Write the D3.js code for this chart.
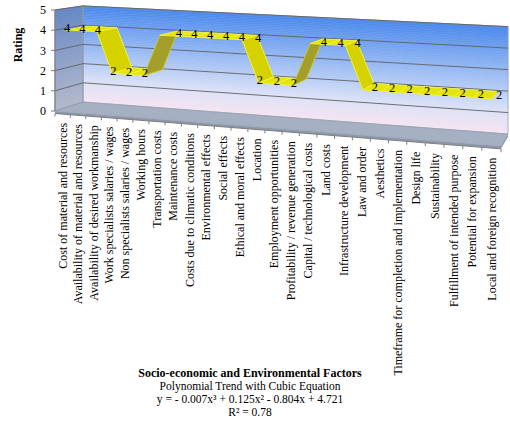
<!DOCTYPE html>
<html>
<head>
<meta charset="utf-8">
<script src="https://cdn.jsdelivr.net/npm/d3@7"></script>
<style>
  body { margin: 0; background: #ffffff; }
  svg { display: block; }
</style>
</head>
<body>
<svg id="chart" width="510" height="421" font-family="'Liberation Serif', 'Times New Roman', Tinos, 'DejaVu Serif', serif"></svg>
<script>
// ---- data ----
const factors = [
  "Cost of material and resources",
  "Availability of material and resources",
  "Availability of desired workmanship",
  "Work specialists salaries / wages",
  "Non specialists salaries / wages",
  "Working hours",
  "Transportation costs",
  "Maintenance costs",
  "Costs due to climatic conditions",
  "Environmental effects",
  "Social effects",
  "Ethical and moral effects",
  "Location",
  "Employment opportunities",
  "Profitability / revenue generation",
  "Capital / technological costs",
  "Land costs",
  "Infrastructure development",
  "Law and order",
  "Aesthetics",
  "Timeframe for completion and implementation",
  "Design life",
  "Sustainability",
  "Fulfillment of intended purpose",
  "Potential for expansion",
  "Local and foreign recognition"
];
const ratings = [4,4,4,2,2,2,4,4,4,4,4,4,2,2,2,4,4,4,2,2,2,2,2,2,2,2];
const ratingTicks = [0,1,2,3,4,5];
const yTitle = "Rating";
const xTitle = "Socio-economic and Environmental Factors";
const trendTitle = "Polynomial Trend with Cubic Equation";
const trendEquation = "y = - 0.007x³ + 0.125x² - 0.804x + 4.721";
const trendFit = "R² = 0.78";

// ---- scales (unit box coordinates) ----
const xBand = d3.scaleBand().domain(factors).range([0, 1]).padding(0);
const xCenter = f => xBand(f) + xBand.bandwidth() / 2;
const yScale = d3.scaleLinear().domain([0, 5]).range([0, 1]);

// ---- perspective camera: box X (categories), Y (rating), Z (depth, 0 = front) ----
const cam = {
  ax: 390.4, az: 32.27, ox: 55,
  bx: 18.8, by: -101, bz: -3.74, oy: 111,
  wx: -0.111, wz: 0.0513
};
function project(X, Y, Z) {
  const w = 1 + cam.wx * X + cam.wz * Z;
  return [
    (cam.ax * X + cam.az * Z + cam.ox) / w,
    (cam.bx * X + cam.by * Y + cam.bz * Z + cam.oy) / w
  ];
}
const poly = pts => "M" + pts.map(p => p[0].toFixed(2) + "," + p[1].toFixed(2)).join("L") + "Z";

const svg = d3.select("#chart");

// ---- back wall and side wall, shaded in horizontal bands ----
const backColor = d3.scaleLinear()
  .domain([0, 0.22, 0.5, 1])
  .range(["#f6e4f1", "#dbe1f7", "#a4c2f4", "#4b88ec"])
  .interpolate(d3.interpolateRgb);
const sideColor = d3.scaleLinear()
  .domain([0, 1])
  .range(["#b2b8cb", "#6385c4"]);
const bands = d3.range(60);
const gWalls = svg.append("g");
gWalls.selectAll("path.back").data(bands).join("path")
  .attr("class", "back")
  .attr("d", k => {
    const v0 = k / bands.length, v1 = (k + 1) / bands.length;
    return poly([project(0, v0, 1), project(1, v0, 1), project(1, v1, 1), project(0, v1, 1)]);
  })
  .attr("fill", k => backColor((k + 0.5) / bands.length))
  .attr("stroke", k => backColor((k + 0.5) / bands.length))
  .attr("stroke-width", 0.6);

gWalls.selectAll("path.side").data(bands).join("path")
  .attr("class", "side")
  .attr("d", k => {
    const v0 = k / bands.length, v1 = (k + 1) / bands.length;
    return poly([project(0, v0, 0), project(0, v0, 1), project(0, v1, 1), project(0, v1, 0)]);
  })
  .attr("fill", k => sideColor((k + 0.5) / bands.length))
  .attr("stroke", k => sideColor((k + 0.5) / bands.length))
  .attr("stroke-width", 0.6);

// ---- floor with a thin slab edge ----
const slab = -0.025;
gWalls.append("path")
  .attr("d", poly([project(0, slab, 0), project(1, slab, 0), project(1, 0, 0), project(0, 0, 0)]))
  .attr("fill", "#8d98ad");
gWalls.append("path")
  .attr("d", poly([project(1, slab, 0), project(1, slab, 1), project(1, 0, 1), project(1, 0, 0)]))
  .attr("fill", "#8d98ad");
gWalls.append("path")
  .attr("d", poly([project(0, 0, 0), project(1, 0, 0), project(1, 0, 1), project(0, 0, 1)]))
  .attr("fill", "#a6b0c3")
  .attr("stroke", "#98a3b7")
  .attr("stroke-width", 0.8);

// wall outlines
gWalls.append("path")
  .attr("d", poly([project(0, 0, 1), project(1, 0, 1), project(1, 1, 1), project(0, 1, 1)]))
  .attr("fill", "none").attr("stroke", "#9aa3b4").attr("stroke-width", 0.8);
gWalls.append("path")
  .attr("d", poly([project(0, 0, 0), project(0, 0, 1), project(0, 1, 1), project(0, 1, 0)]))
  .attr("fill", "none").attr("stroke", "#8f98aa").attr("stroke-width", 0.8);

// ---- gridlines ----
const gGrid = svg.append("g").attr("fill", "none").attr("stroke", "#626262").attr("stroke-width", 0.9);
ratingTicks.filter(t => t > 0).forEach(t => {
  const v = yScale(t);
  gGrid.append("path").attr("d", "M" + project(0, v, 0) + "L" + project(0, v, 1) + "L" + project(1, v, 1));
});

// ---- axes ----
const gAxis = svg.append("g");
gAxis.append("path")
  .attr("d", "M" + project(0, 0, 0) + "L" + project(0, 1, 0))
  .attr("stroke", "#7d7d7d").attr("stroke-width", 1);
gAxis.append("path")
  .attr("d", "M" + project(0, slab, 0) + "L" + project(1, slab, 0))
  .attr("stroke", "#7d7d7d").attr("stroke-width", 1);

ratingTicks.forEach(t => {
  const [x, y] = project(0, yScale(t), 0);
  gAxis.append("line")
    .attr("x1", x - 4).attr("x2", x).attr("y1", y).attr("y2", y)
    .attr("stroke", "#7d7d7d");
  gAxis.append("text")
    .attr("x", x - 9).attr("y", y).attr("dy", "0.35em")
    .attr("text-anchor", "end").attr("font-size", 12)
    .text(t);
});

d3.range(factors.length + 1).forEach(k => {
  const X = k / factors.length;
  const a = project(X, slab, 0), b = project(X, slab - 0.03, 0);
  gAxis.append("line")
    .attr("x1", a[0]).attr("y1", a[1]).attr("x2", b[0]).attr("y2", b[1])
    .attr("stroke", "#7d7d7d");
});

gAxis.selectAll("text.cat").data(factors).join("text")
  .attr("class", "cat")
  .attr("transform", f => {
    const [x, y] = project(xCenter(f), yScale(-0.55), 0);
    return `translate(${x},${y}) rotate(-90)`;
  })
  .attr("dy", "0.35em")
  .attr("text-anchor", "end")
  .attr("font-size", 12)
  .text(f => f);

// ---- ribbon ----
const zNear = 0.12, zFar = 0.88;
const pts = factors.map((f, i) => ({ X: xCenter(f), Y: yScale(ratings[i]), v: ratings[i] }));
const segs = d3.pairs(pts).map(([a, b]) => {
  const q = [project(a.X, a.Y, zNear), project(b.X, b.Y, zNear), project(b.X, b.Y, zFar), project(a.X, a.Y, zFar)];
  let area = 0;
  for (let k = 0; k < 4; k++) {
    const p = q[k], n = q[(k + 1) % 4];
    area += p[0] * n[1] - n[0] * p[1];
  }
  return { q, underside: area > 0, flat: a.v === b.v };
});
const gRibbon = svg.append("g");
gRibbon.selectAll("path").data(segs).join("path")
  .attr("d", s => poly(s.q))
  .attr("fill", s => s.underside ? "#a39f2a" : (s.flat ? "#e4e40e" : "#d6d200"))
  .attr("stroke", s => s.underside ? "#c9c63a" : "#f2f23a")
  .attr("stroke-width", 1)
  .attr("stroke-linejoin", "round");

// value labels: near edge for the first run and for runs that rise afterwards, far edge otherwise
const labelDepth = ratings.map((v, i) => {
  let s = i; while (s > 0 && ratings[s - 1] === v) s--;
  let e = i; while (e + 1 < ratings.length && ratings[e + 1] === v) e++;
  const next = ratings[e + 1];
  return (s === 0 || (next !== undefined && next > v)) ? zNear : zFar;
});
svg.append("g").selectAll("text").data(pts).join("text")
  .attr("x", (p, i) => project(p.X, p.Y, labelDepth[i])[0] + 1)
  .attr("y", p => project(p.X, p.Y, 0.5)[1])
  .attr("dy", "0.35em")
  .attr("text-anchor", "middle")
  .attr("font-size", 12.5)
  .text(p => p.v);

// ---- titles ----
svg.append("text")
  .attr("transform", "translate(18,45) rotate(-90)")
  .attr("dy", "0.35em")
  .attr("text-anchor", "middle")
  .attr("font-size", 12).attr("font-weight", "bold")
  .text(yTitle);

const gTitle = svg.append("g").attr("text-anchor", "middle");
gTitle.append("text").attr("x", 250).attr("y", 377)
  .attr("font-size", 12).attr("font-weight", "bold").text(xTitle);
gTitle.append("text").attr("x", 250).attr("y", 390)
  .attr("font-size", 11.5).text(trendTitle);
gTitle.append("text").attr("x", 250).attr("y", 403)
  .attr("font-size", 11.5).text(trendEquation);
gTitle.append("text").attr("x", 250).attr("y", 416)
  .attr("font-size", 11.5).text(trendFit);
</script>
</body>
</html>
